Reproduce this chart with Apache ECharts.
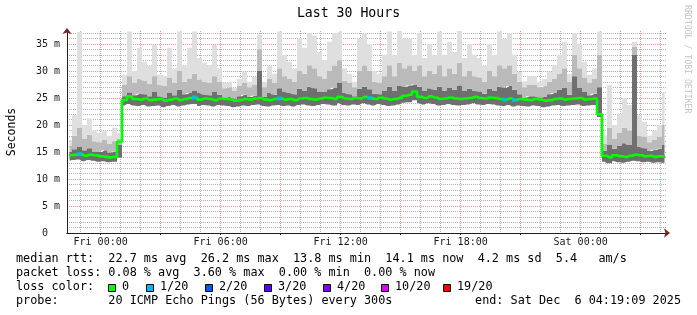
<!DOCTYPE html>
<html><head><meta charset="utf-8">
<script src="https://cdn.jsdelivr.net/npm/echarts@6/dist/echarts.min.js"></script>
<style>html,body{margin:0;padding:0;background:#fff}#c{width:697px;height:315px}</style>
</head><body><div id="c"></div><script>
// ---- data (hours relative to Fri 00:00; 15-minute slots) ----
const slotStart = -1.55, slotStep = 0.25;
const medianRtt = [
 14.4,14.5,14.6,14.3,14.5,14.4,14.2,14.1,14.0,14.1,
 16.9,
 24.6,25.3,24.8,24.7,24.9,24.6,24.7,24.8,24.5,24.7,
 24.9,24.6,24.8,25.0,25.1,24.7,24.9,24.8,24.6,24.9,
 24.8,24.7,24.5,24.6,24.8,24.7,24.9,25.0,24.7,24.6,
 24.8,24.9,24.7,24.8,24.6,24.9,25.0,24.8,24.7,24.9,
 25.1,25.0,24.8,25.2,24.9,24.8,25.0,24.9,25.2,25.0,
 24.8,25.1,24.9,24.7,24.8,25.0,25.4,25.6,26.2,25.2,
 25.0,25.3,25.1,24.8,24.9,25.1,24.9,24.8,24.9,25.0,
 25.2,25.0,24.9,25.1,25.0,24.8,24.7,24.9,24.6,24.8,
 24.7,24.6,24.8,24.7,24.5,24.6,24.8,24.9,24.7,24.8,
 24.9,25.0,24.7,24.8,24.9,
 22.0,
 14.3,14.0,14.4,14.2,14.1,14.3,14.5,14.4,14.2,14.3,14.1,14.2,14.1
];
const lossCount = [
 0,0,1,0,0,0,0,0,0,0, 0,
 0,0,0,0,0,0,0,0,0,0, 0,0,0,0,1,0,0,0,0,0, 0,0,0,0,0,0,0,0,0,0,
 0,1,0,0,0,0,0,0,0,0, 0,0,0,0,0,0,0,0,0,1, 0,0,0,0,0,0,0,0,0,0,
 0,0,0,0,0,0,0,0,0,0, 0,0,0,0,0,0,1,0,1,0, 0,0,0,0,0,0,0,0,0,0,
 0,0,0,0,0, 0,
 0,0,0,0,0,0,0,0,0,0,0,0,0
];
const smokeMin = [
 13.4,13.5,13.6,13.3,13.5,13.4,13.2,13.3,13.1,13.2,
 14.0,
 23.6,23.9,23.6,23.5,23.7,23.4,23.5,23.6,23.3,23.5,
 23.7,23.4,23.6,23.8,23.9,23.5,23.7,23.6,23.4,23.7,
 23.6,23.5,23.3,23.4,23.6,23.5,23.7,23.8,23.5,23.4,
 23.6,23.7,23.5,23.6,23.4,23.7,23.8,23.6,23.5,23.7,
 23.9,23.8,23.6,24.0,23.7,23.6,23.8,23.7,24.0,23.8,
 23.6,23.9,23.7,23.5,23.6,23.8,24.1,24.2,24.6,24.0,
 23.8,24.0,23.9,23.6,23.7,23.9,23.7,23.6,23.7,23.8,
 24.0,23.8,23.7,23.9,23.8,23.6,23.5,23.7,23.4,23.6,
 23.5,23.4,23.6,23.5,23.3,23.4,23.6,23.7,23.5,23.6,
 23.7,23.8,23.5,23.6,23.7,
 21.5,
 13.2,12.9,13.3,13.1,13.0,13.2,13.4,13.3,13.1,13.2,13.0,13.1,13.0
];
const smokeDark = [
 15.0,15.5,15.9,15.3,15.7,15.1,15.0,15.3,14.9,15.1,
 16.4,
 25.3,26.0,25.5,25.8,25.7,25.3,26.1,25.3,25.1,25.9,
 25.5,26.5,25.7,25.9,26.3,25.9,25.6,25.5,26.1,25.6,
 25.1,25.2,24.9,25.3,25.6,25.2,25.4,30.0,25.2,25.9,
 25.6,26.8,26.1,25.9,25.7,26.7,26.3,27.1,26.8,26.2,
 26.1,26.6,26.9,27.8,25.9,25.7,25.3,26.7,27.1,26.6,
 25.8,25.7,26.3,27.1,26.3,27.3,27.1,27.3,27.5,27.1,
 26.3,26.8,26.5,27.1,26.3,26.9,26.5,27.3,26.3,26.7,
 26.3,26.2,25.8,26.7,26.3,27.1,26.9,27.2,26.5,25.7,
 25.1,25.3,25.3,25.1,25.2,25.7,25.9,26.5,26.9,25.6,
 29.0,26.9,26.1,25.5,25.8,
 27.0,
 15.2,16.4,15.6,16.1,16.6,16.3,33.0,15.9,15.7,15.2,15.4,15.6,16.4
];
const smokeMid = [
 16.2,18.0,19.5,17.5,18.2,17.0,16.8,17.2,16.5,17.0,
 17.5,
 27.5,29.0,27.8,28.5,28.2,27.6,29.0,27.5,27.2,28.8,
 27.8,30.0,28.0,28.6,29.5,28.4,28.0,27.8,29.0,28.0,
 26.8,27.0,26.4,27.2,27.8,27.0,27.4,34.0,27.0,28.5,
 27.8,30.5,29.0,28.5,28.0,30.0,29.5,31.0,30.5,29.0,
 28.5,30.0,31.0,32.0,28.2,27.8,27.0,30.0,31.0,30.0,
 28.0,27.8,29.0,31.0,29.0,31.5,30.5,31.0,30.0,31.0,
 29.0,30.0,29.5,31.0,29.0,30.5,29.5,31.5,29.0,30.0,
 29.0,28.8,28.0,30.0,29.0,31.0,30.5,31.0,29.5,28.0,
 27.0,27.5,27.4,27.0,27.2,28.0,28.5,29.5,30.5,28.0,
 33.0,30.5,28.8,27.8,28.5,
 33.0,
 16.5,19.5,17.5,18.5,19.5,19.0,34.5,18.0,17.8,16.8,17.2,17.8,20.0
];
const smokeMax = [
 17.2,21.8,37.2,20.0,21.2,19.0,18.5,19.0,18.0,19.5,
 18.5,
 29.3,37.3,30.0,34.3,31.7,31.0,34.8,29.3,29.0,34.3,
 30.5,37.3,31.0,34.3,37.3,32.4,31.5,31.0,34.8,30.5,
 27.8,28.0,26.9,28.5,29.8,28.0,28.9,36.7,28.0,31.0,
 29.5,37.3,33.0,31.7,30.5,36.0,34.3,37.0,36.5,33.5,
 32.0,35.4,37.0,37.3,30.5,29.5,28.0,36.0,37.0,35.0,
 30.0,29.5,33.0,37.3,33.0,37.5,36.0,36.0,33.0,37.0,
 32.4,35.0,33.0,37.3,33.0,35.4,33.5,37.5,32.4,35.0,
 33.0,32.4,31.0,35.0,33.0,37.3,36.0,37.0,33.0,29.8,
 28.1,29.0,29.0,28.0,28.5,29.8,31.0,33.0,35.4,29.5,
 37.0,35.0,31.7,29.3,30.5,
 37.3,
 18.1,27.4,20.0,22.0,25.0,23.7,35.4,21.8,20.6,18.0,19.0,20.0,26.0
];
const xLabelHours = [0, 6, 12, 18, 24];
const xTickLabels = ['Fri 00:00', 'Fri 06:00', 'Fri 12:00', 'Fri 18:00', 'Sat 00:00'];
const xMajorHours = [0, 3, 6, 9, 12, 15, 18, 21, 24, 27];
const xMinorHours = [-1, 1, 2, 4, 5, 7, 8, 10, 11, 13, 14, 16, 17, 19, 20, 22, 23, 25, 26, 28];
const yLabelValues = [0, 5, 10, 15, 20, 25, 30, 35];
const yMajorGrid = [5, 10, 15, 20, 25, 30, 35];
const yMinorGrid = [1,2,3,4,6,7,8,9,11,12,13,14,16,17,18,19,21,22,23,24,26,27,28,29,31,32,33,34,36,37];
const lossLabels = ['0', '1/20', '2/20', '3/20', '4/20', '10/20', '19/20'];
const lossLevels = [0, 1, 2, 3, 4, 10, 19];
const lossColors = ['#00ff00', '#00b8ff', '#0059ff', '#5e00ff', '#7e00ff', '#dd00ff', '#ff0000'];
const statLines = [
 'median rtt:  22.7 ms avg  26.2 ms max  13.8 ms min  14.1 ms now  4.2 ms sd  5.4   am/s',
 'packet loss: 0.08 % avg  3.60 % max  0.00 % min  0.00 % now',
 'loss color:',
 'probe:       20 ICMP Echo Pings (56 Bytes) every 300s'
];
const endText = 'end: Sat Dec  6 04:19:09 2025';

// ---- layout ----
const FONT = 'DejaVu Sans Mono';
const tMin = -1.681, tMax = 28.319, yMax = 37.4;
const legendBoxX = [108, 146, 205, 264, 323, 381, 443];

const slotTimes = medianRtt.map((_, i) => (slotStart + i * slotStep).toFixed(2));
const diff = (a, b) => a.map((v, i) => Math.round((v - b[i]) * 100) / 100);
function lossColor(n) {
  let c = lossColors[0];
  lossLevels.forEach((lv, k) => { if (n >= lv) c = lossColors[k]; });
  return c;
}

const chart = echarts.init(document.getElementById('c'), null, {renderer: 'canvas'});
const DATA_X = 3, DATA_Y = 2;
const smokeBase = {type: 'line', xAxisIndex: DATA_X, yAxisIndex: DATA_Y, stack: 'smoke', step: 'middle',
  symbol: 'none', silent: true, lineStyle: {width: 0, opacity: 0}};

const graphic = [
  {type: 'text', x: 12, y: 132, rotation: Math.PI / 2,
   style: {text: 'Seconds', fontFamily: FONT, fontSize: 11.5, fill: '#000', align: 'center', verticalAlign: 'middle', textAlign: 'center', textVerticalAlign: 'middle'}},
  {type: 'text', x: 687.5, y: 5, rotation: -Math.PI / 2,
   style: {text: 'RRDTOOL / TOBI OETIKER', fontFamily: FONT, fontSize: 8.2, fill: '#c4c4c4', align: 'left', verticalAlign: 'middle', textAlign: 'left', textVerticalAlign: 'middle'}}
];
const lineY = [259, 273, 287, 301];
statLines.forEach((s, i) => graphic.push({type: 'text', x: 16, y: lineY[i],
  style: {text: s, fontFamily: FONT, fontSize: 11.8, fill: '#000', align: 'left', verticalAlign: 'middle', textAlign: 'left', textVerticalAlign: 'middle'}}));
graphic.push({type: 'text', x: 681, y: lineY[3],
  style: {text: endText, fontFamily: FONT, fontSize: 11.8, fill: '#000', align: 'right', verticalAlign: 'middle', textAlign: 'right', textVerticalAlign: 'middle'}});
lossLabels.forEach((lab, k) => {
  graphic.push({type: 'rect', shape: {x: legendBoxX[k] + 0.5, y: 284.5, width: 7, height: 7},
    style: {fill: lossColors[k], stroke: '#000', lineWidth: 1}});
  graphic.push({type: 'text', x: legendBoxX[k] + 14, y: lineY[2],
    style: {text: lab, fontFamily: FONT, fontSize: 11.8, fill: '#000', align: 'left', verticalAlign: 'middle', textAlign: 'left', textVerticalAlign: 'middle'}});
});

const lossPoints = [];
lossCount.forEach((n, i) => {
  if (n > 0) lossPoints.push({value: [i, medianRtt[i]], itemStyle: {color: lossColor(n)}});
});

const hidden = {axisLabel: {show: false}, axisTick: {show: false}, splitLine: {show: false}};
chart.setOption({
  animation: false,
  backgroundColor: '#ffffff',
  title: {text: 'Last 30 Hours', left: 'center', top: 7, padding: 0,
    textStyle: {fontFamily: FONT, fontSize: 13.2, fontWeight: 'normal', color: '#000'}},
  grid: {left: 67, right: 30, top: 31, bottom: 82},
  xAxis: [
    Object.assign({type: 'value', min: tMin, max: tMax, position: 'bottom',
      axisLine: {show: true, onZero: false, symbol: ['none', 'arrow'], symbolSize: [7, 6], symbolOffset: [0, 3], lineStyle: {color: '#801f1f', width: 1}}}, hidden),
    {type: 'value', min: tMin, max: tMax, position: 'bottom', axisLine: {show: false, onZero: false},
      axisLabel: {show: false}, axisTick: {show: false, customValues: xMinorHours},
      splitLine: {show: true, lineStyle: {color: '#b4b4b4', width: 1, type: [1, 1]}}},
    {type: 'value', min: tMin, max: tMax, position: 'bottom',
      axisLine: {show: true, onZero: false, lineStyle: {color: '#1f1f1f', width: 1}},
      axisTick: {show: true, length: 2, customValues: xMajorHours, lineStyle: {color: '#1f1f1f'}},
      axisLabel: {show: true, customValues: xLabelHours, margin: 4, fontFamily: FONT, fontSize: 10, color: '#1a1a1a',
        formatter: v => xTickLabels[xLabelHours.indexOf(Math.round(v))] || ''},
      splitLine: {show: true, lineStyle: {color: '#eb9595', width: 1, type: [1, 1]}}},
    Object.assign({type: 'category', data: slotTimes, boundaryGap: true, position: 'bottom',
      axisLine: {show: false, onZero: false}}, hidden)
  ],
  yAxis: [
    Object.assign({type: 'value', min: 0, max: yMax, position: 'left',
      axisLine: {show: true, onZero: false, symbol: ['none', 'arrow'], symbolSize: [7, 6], symbolOffset: [0, 3], lineStyle: {color: '#801f1f', width: 1}}}, hidden),
    {type: 'value', min: 0, max: yMax, position: 'left', axisLine: {show: false, onZero: false},
      axisLabel: {show: false}, axisTick: {show: false, customValues: yMinorGrid},
      splitLine: {show: true, lineStyle: {color: '#b4b4b4', width: 1, type: [1, 1]}}},
    {type: 'value', min: 0, max: yMax, position: 'left',
      axisLine: {show: true, onZero: false, lineStyle: {color: '#1f1f1f', width: 1}},
      axisTick: {show: false, customValues: yMajorGrid},
      axisLabel: {show: true, customValues: yLabelValues, margin: 7, fontFamily: FONT, fontSize: 10, color: '#1a1a1a',
        formatter: v => (v === 0 ? '0  ' : v + ' m')},
      splitLine: {show: true, lineStyle: {color: '#eb9595', width: 1, type: [1, 1]}}}
  ],
  graphic: graphic,
  series: [
    Object.assign({}, smokeBase, {name: 'min', data: smokeMin, areaStyle: {opacity: 0}}),
    Object.assign({}, smokeBase, {name: 'core', data: diff(smokeDark, smokeMin), areaStyle: {color: '#6f6f6f', opacity: 1}}),
    Object.assign({}, smokeBase, {name: 'mid', data: diff(smokeMid, smokeDark), areaStyle: {color: '#bababa', opacity: 1}}),
    Object.assign({}, smokeBase, {name: 'max', data: diff(smokeMax, smokeMid), areaStyle: {color: '#dfdfdf', opacity: 1}}),
    {type: 'line', name: 'median', xAxisIndex: DATA_X, yAxisIndex: DATA_Y, step: 'middle', symbol: 'none', silent: true,
      data: medianRtt, lineStyle: {color: '#000', width: 1.2}},
    {type: 'line', name: 'median 0', xAxisIndex: DATA_X, yAxisIndex: DATA_Y, step: 'middle', symbol: 'none', silent: true,
      data: medianRtt, lineStyle: {color: lossColors[0], width: 2.6}},
    {type: 'scatter', name: 'loss', xAxisIndex: DATA_X, yAxisIndex: DATA_Y, symbol: 'rect', symbolSize: [5, 4], silent: true,
      z: 5, data: lossPoints}
  ]
});
</script></body></html>
